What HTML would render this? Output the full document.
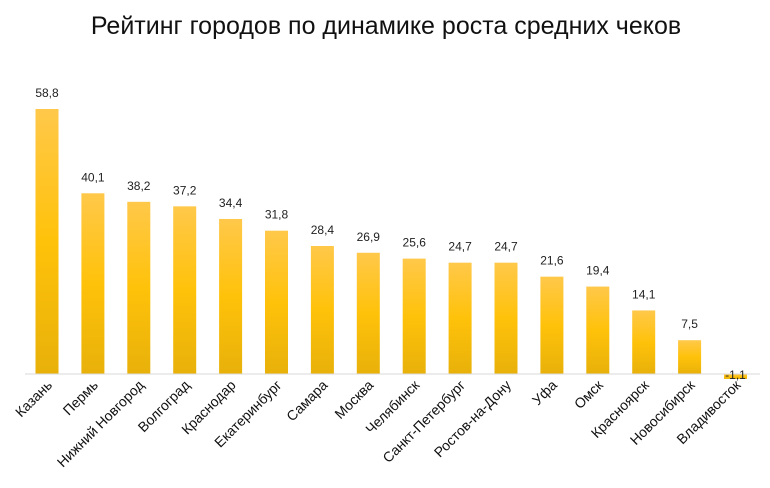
<!DOCTYPE html>
<html><head><meta charset="utf-8"><style>
html,body{margin:0;padding:0;background:#fff;}
svg{display:block;font-family:"Liberation Sans",sans-serif;}
</style></head><body>
<svg width="770" height="488" viewBox="0 0 770 488">
<defs>
<linearGradient id="g" x1="0" y1="0" x2="0" y2="1">
<stop offset="0" stop-color="#ffc84a"/><stop offset="0.5" stop-color="#ffc20a"/><stop offset="1" stop-color="#e8b10a"/>
</linearGradient>
</defs>
<text x="386" y="34" text-anchor="middle" font-size="25" fill="#111">Рейтинг городов по динамике роста средних чеков</text>
<g id="bars"></g>
<line x1="25" y1="374" x2="760" y2="374" stroke="#d9d9d9" stroke-width="1"/>
<g id="labels"></g>
</svg>
<script>
const categories=["Казань","Пермь","Нижний Новгород","Волгоград","Краснодар","Екатеринбург","Самара","Москва","Челябинск","Санкт-Петербург","Ростов-на-Дону","Уфа","Омск","Красноярск","Новосибирск","Владивосток"];
const values=[58.8,40.1,38.2,37.2,34.4,31.8,28.4,26.9,25.6,24.7,24.7,21.6,19.4,14.1,7.5,-1.1];
const valueLabels=["58,8","40,1","38,2","37,2","34,4","31,8","28,4","26,9","25,6","24,7","24,7","21,6","19,4","14,1","7,5","-1,1"];
const NS="http://www.w3.org/2000/svg";
const y0=374, k=265/58.8;
function yScale(v){return y0-v*k;}
function xScale(i){return 47+i*45.9;}
const bw=23;
const gb=document.getElementById('bars'), gl=document.getElementById('labels');
categories.forEach((c,i)=>{
  const v=values[i], x=xScale(i);
  const r=document.createElementNS(NS,'rect');
  
  
  r.setAttribute('x',x-bw/2);
  r.setAttribute('y',Math.min(yScale(v),y0));
  r.setAttribute('width',bw);
  r.setAttribute('height',Math.abs(yScale(v)-y0));
  r.setAttribute('fill','url(#g)');
  gb.appendChild(r);
  const t=document.createElementNS(NS,'text');
  
  
  t.setAttribute('x',x);
  t.setAttribute('y',v>=0?yScale(v)-12:y0+5);
  t.setAttribute('text-anchor','middle');
  t.setAttribute('font-size','12');
  t.setAttribute('fill','#222');
  t.setAttribute('font-family','"Liberation Sans Narrow","Liberation Sans",sans-serif');
  t.textContent=valueLabels[i];
  gl.appendChild(t);
  const l=document.createElementNS(NS,'text');
  
  
  l.setAttribute('transform','translate('+(x+6)+',386) rotate(-45)');
  l.setAttribute('text-anchor','end');
  l.setAttribute('font-size','14');
  l.setAttribute('fill','#111');
  l.textContent=c;
  gl.appendChild(l);
});
</script>
</body></html>
